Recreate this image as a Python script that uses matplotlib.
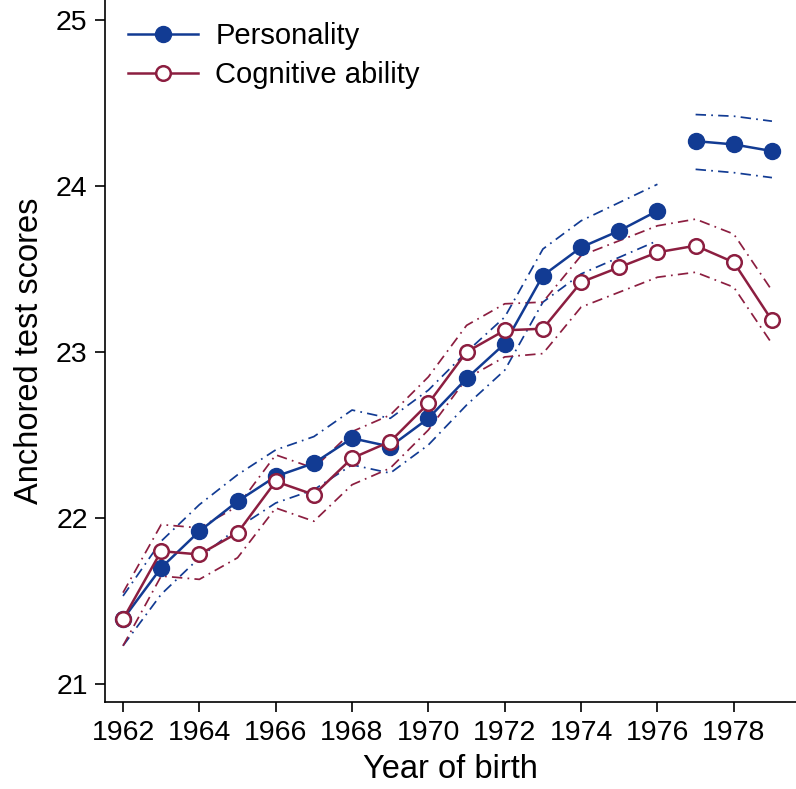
import numpy as np
import matplotlib
matplotlib.use("Agg")
import matplotlib.pyplot as plt

plt.rcParams['font.family'] = ['Liberation Sans', 'DejaVu Sans']

# DATA
years = np.arange(1962, 1980)
personality = [21.39, 21.70, 21.92, 22.10, 22.25, 22.33, 22.48, 22.43, 22.60,
               22.84, 23.05, 23.46, 23.63, 23.73, 23.85, 24.27, 24.25, 24.21]
pers_upper = [21.53, 21.86, 22.08, 22.26, 22.41, 22.49, 22.65, 22.60, 22.77,
              23.00, 23.21, 23.62, 23.79, 23.90, 24.01, 24.43, 24.42, 24.39]
pers_lower = [21.23, 21.54, 21.76, 21.94, 22.09, 22.17, 22.32, 22.27, 22.44,
              22.68, 22.89, 23.30, 23.47, 23.57, 23.67, 24.10, 24.08, 24.05]
cognitive = [21.39, 21.80, 21.78, 21.91, 22.22, 22.14, 22.36, 22.46, 22.69,
             23.00, 23.13, 23.14, 23.42, 23.51, 23.60, 23.64, 23.54, 23.19]
cog_upper = [21.55, 21.96, 21.94, 22.07, 22.38, 22.30, 22.52, 22.62, 22.85,
             23.16, 23.29, 23.30, 23.58, 23.67, 23.76, 23.80, 23.71, 23.37]
cog_lower = [21.23, 21.65, 21.63, 21.76, 22.06, 21.98, 22.20, 22.30, 22.53,
             22.84, 22.97, 22.99, 23.27, 23.36, 23.45, 23.48, 23.39, 23.05]

BLUE = '#123b93'
MAROON = '#8c1e40'
dashdot = (0, (6, 3, 1, 3))

fig = plt.figure(figsize=(7.96, 7.89), dpi=100)
ax = fig.add_axes([0.132, 0.110, 0.868, 0.890])

# personality is split in two pieces (gap between 1976 and 1977)
segments = [slice(0, 15), slice(15, 18)]
for i, s in enumerate(segments):
    ax.plot(years[s], pers_upper[s], color=BLUE, lw=1.25, ls=dashdot)
    ax.plot(years[s], pers_lower[s], color=BLUE, lw=1.25, ls=dashdot)
    ax.plot(years[s], personality[s], color=BLUE, lw=1.8, marker='o', ms=11.5,
            mfc=BLUE, mec=BLUE, label='Personality' if i == 0 else None, zorder=3)

ax.plot(years, cog_upper, color=MAROON, lw=1.25, ls=dashdot)
ax.plot(years, cog_lower, color=MAROON, lw=1.25, ls=dashdot)
ax.plot(years, cognitive, color=MAROON, lw=1.8, marker='o', ms=10.5,
        mfc='white', mec=MAROON, mew=1.8, label='Cognitive ability', zorder=4)

ax.set_xlim(1961.53, 1979.63)
ax.set_ylim(20.89, 25.12)
ax.set_xticks(np.arange(1962, 1979, 2))
ax.set_yticks([21, 22, 23, 24, 25])
ax.tick_params(axis='both', direction='out', length=7.5, width=1.2, labelsize=20.5,
               color='black', pad=5)
ax.set_xlabel('Year of birth', fontsize=23.5, labelpad=6)
ax.set_ylabel('Anchored test scores', fontsize=23.5, labelpad=8)

for side in ['top', 'right']:
    ax.spines[side].set_visible(False)
for side in ['left', 'bottom']:
    ax.spines[side].set_linewidth(1.2)

leg = ax.legend(loc='upper left', frameon=False, fontsize=21, handlelength=2.4,
                handletextpad=0.6, bbox_to_anchor=(0.016, 0.985), borderaxespad=0,
                labelspacing=0.37)

fig.savefig('out.png', dpi=100)
